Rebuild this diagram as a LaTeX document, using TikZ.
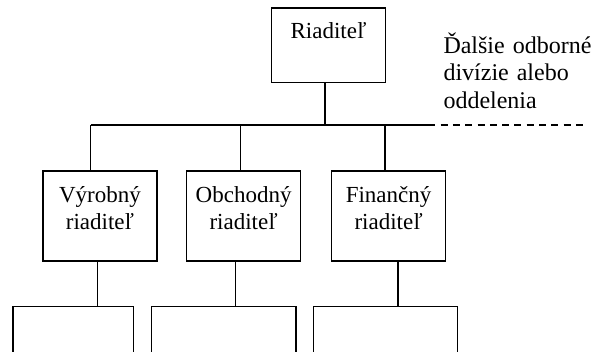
\documentclass[tikz,border=0pt]{standalone}
\usepackage{fontspec}
\setmainfont{Liberation Serif}
\begin{document}
\begin{tikzpicture}[x=1pt,y=-1pt,
  box/.style={draw, line width=1.2pt, rectangle, inner sep=0pt, anchor=north west},
  headbox/.style={box, align=center, font=\fontsize{23}{27}\selectfont},
  midbox/.style={headbox, text width=114pt, text height=31.7pt, text depth=58.3pt},
  lowbox/.style={box, minimum height=80pt},
  conn/.style={line width=1.2pt},
  further/.style={conn, dash pattern=on 7pt off 5.3pt}
]
\useasboundingbox (0,0) rectangle (592,351);
\clip (0,0) rectangle (592,351);

% head of the company
\node[headbox, text width=114.3pt, text height=30.7pt, text depth=43.7pt] (top) at (270.7,7.3) {Riaditeľ};

% second level
\node[midbox] (m1) at (42.3,170.3) {Výrobný\\riaditeľ};
\node[midbox] (m2) at (186,170.3) {Obchodný\\riaditeľ};
\node[midbox] (m3) at (331,170.3) {Finančný\\riaditeľ};

% third level, open towards the bottom
\node[lowbox, minimum width=120.4pt] (b1) at (12.3,305.7) {};
\node[lowbox, minimum width=144.6pt] (b2) at (150.7,305.7) {};
\node[lowbox, minimum width=144.3pt] (b3) at (312.7,305.7) {};

% note on further divisions
\node[anchor=base west, inner sep=0pt, text width=170pt, align=left,
      font=\fontsize{24}{27.5}\selectfont] (note) at (443.3,53.3)
  {Ďalšie odborné\\divízie alebo\\oddelenia};

% distribution bar
\coordinate (jL) at (90.7,125);
\coordinate (j2) at (240.7,125);
\coordinate (jT) at (325,125);
\coordinate (j3) at (385,125);
\coordinate (jR) at (428.3,125);
\coordinate (jEnd) at (587,125);

\draw[conn] (jT |- top.south) -- (jT);
\draw[conn] (jL) -- (jR);
\draw[further] (jR) -- (jEnd);
\draw[conn] (jL) -- (jL |- m1.north);
\draw[conn] (j2) -- (j2 |- m2.north);
\draw[conn] (j3) -- (j3 |- m3.north);

% links to the third level
\draw[conn] ([xshift=-2.6pt]m1.south) -- ([xshift=-2.6pt]m1.south |- b1.north);
\draw[conn] ([xshift=-8.3pt]m2.south) -- ([xshift=-8.3pt]m2.south |- b2.north);
\draw[conn] ([xshift=9.3pt]m3.south) -- ([xshift=9.3pt]m3.south |- b3.north);
\end{tikzpicture}
\end{document}
